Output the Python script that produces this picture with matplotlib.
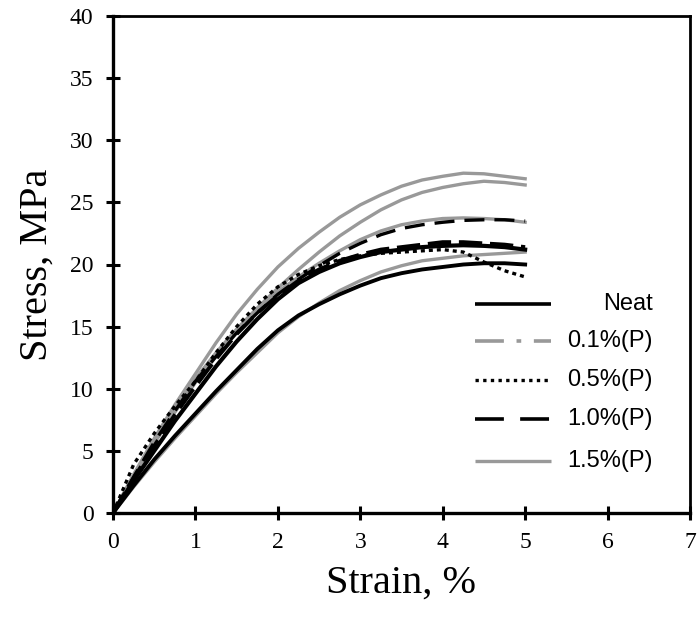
import numpy as np
import matplotlib
matplotlib.use('Agg')
import matplotlib.pyplot as plt

# strain (%) / stress (MPa), one list per specimen
strain = [0, 0.25, 0.5, 0.75, 1.0, 1.25, 1.5, 1.75, 2.0, 2.25, 2.5,
          2.75, 3.0, 3.25, 3.5, 3.75, 4.0, 4.25, 4.5, 4.75, 5.0]

neat_a = [0, 2.6, 5.0, 7.4, 9.6, 11.8, 13.8, 15.6, 17.2, 18.5, 19.4,
          20.1, 20.6, 21.0, 21.2, 21.4, 21.5, 21.55, 21.5, 21.4, 21.2]
neat_b = [0, 2.2, 4.3, 6.2, 8.0, 9.8, 11.5, 13.2, 14.7, 15.9, 16.8,
          17.6, 18.3, 18.9, 19.3, 19.6, 19.8, 20.0, 20.1, 20.1, 20.0]
p01_a = [0, 2.1, 4.1, 6.0, 7.8, 9.6, 11.3, 12.9, 14.5, 15.8, 16.9,
         17.9, 18.7, 19.4, 19.9, 20.3, 20.5, 20.7, 20.8, 20.9, 21.0]
p05_a = [0, 3.9, 6.4, 8.6, 10.6, 12.9, 15.0, 16.8, 18.2, 19.2, 19.9,
         20.4, 20.7, 20.9, 21.0, 21.1, 21.2, 21.0, 20.2, 19.5, 19.0]
p10_a = [0, 2.9, 5.7, 8.2, 10.6, 12.6, 14.5, 16.1, 17.6, 18.8, 19.9,
         20.9, 21.7, 22.4, 22.9, 23.2, 23.4, 23.55, 23.6, 23.6, 23.5]
p10_b = [0, 2.8, 5.4, 7.9, 10.2, 12.4, 14.4, 16.1, 17.5, 18.7, 19.6,
         20.3, 20.8, 21.2, 21.4, 21.6, 21.8, 21.8, 21.7, 21.6, 21.4]
p15_a = [0, 3.1, 6.0, 8.7, 11.2, 13.7, 16.0, 18.0, 19.8, 21.3, 22.6,
         23.8, 24.8, 25.6, 26.3, 26.8, 27.1, 27.35, 27.3, 27.1, 26.9]
p15_b = [0, 3.0, 5.8, 8.4, 10.8, 12.9, 14.8, 16.5, 18.1, 19.6, 21.0,
         22.3, 23.4, 24.4, 25.2, 25.8, 26.2, 26.5, 26.7, 26.6, 26.4]
p15_c = [0, 2.9, 5.6, 8.1, 10.5, 12.6, 14.6, 16.3, 17.8, 19.0, 20.1,
         21.1, 22.0, 22.7, 23.2, 23.5, 23.7, 23.75, 23.7, 23.6, 23.4]

labels = ['Neat', '0.1%(P)', '0.5%(P)', '1.0%(P)', '1.5%(P)']

GREY = '#999999'
styles = {
    'Neat': dict(color='black', lw=2.6, ls='-'),
    '0.1%(P)': dict(color=GREY, lw=2.6, ls=(0, (8, 3.5, 1.3, 3.5))),
    '0.5%(P)': dict(color='black', lw=2.4, ls=(0, (1, 1.3))),
    '1.0%(P)': dict(color='black', lw=2.6, ls=(0, (8, 4.5))),
    '1.5%(P)': dict(color=GREY, lw=2.4, ls='-'),
}

fig = plt.figure(figsize=(6.99, 6.23), dpi=100)
ax = fig.add_axes([113/699, 1 - 513/623, 577/699, 497/623])

# specimen curves (dense data in the original looks solid)
ax.plot(strain, p15_a, color=GREY, lw=2.4)
ax.plot(strain, p15_b, color=GREY, lw=2.4)
ax.plot(strain, p15_c, color=GREY, lw=2.4)
ax.plot(strain, p01_a, color=GREY, lw=2.4)
ax.plot(strain, neat_b, color='black', lw=2.8)
ax.plot(strain, neat_a, color='black', lw=3.0)
ax.plot(strain, p10_b, color='black', lw=2.8, ls=(0, (6, 2)))
ax.plot(strain, p10_a, color='black', lw=2.4, ls=(0, (6, 3)))
ax.plot(strain, p05_a, color='black', lw=2.4, ls=(0, (1.2, 1.2)))

ax.set_xlim(0, 7)
ax.set_ylim(0, 40)
ax.set_xticks(range(0, 8))
ax.set_yticks(range(0, 41, 5))

for s in ['left', 'bottom']:
    ax.spines[s].set_linewidth(2.4)
for s in ['top', 'right']:
    ax.spines[s].set_linewidth(2.0)
ax.tick_params(direction='inout', length=10, width=2.2, labelsize=17, pad=9)
for lab in ax.get_xticklabels() + ax.get_yticklabels():
    lab.set_family('Liberation Serif')

ax.set_xlabel('Strain, %', family='Liberation Serif', fontsize=29, labelpad=8)
ax.set_ylabel('Stress, MPa', family='Liberation Serif', fontsize=29, labelpad=10)

# hand-placed legend, text right-aligned like the original
row_y = [304, 341, 380, 419, 461]
for lab, yp in zip(labels, row_y):
    yy = 1 - (yp - 16) / 497
    ax.plot([(475 - 113) / 577, (551 - 113) / 577], [yy, yy],
            transform=ax.transAxes, clip_on=False, solid_capstyle='butt',
            dash_capstyle='butt', **styles[lab])
    ax.text((653 - 113) / 577, yy, lab, transform=ax.transAxes,
            ha='right', va='center', fontsize=17, family='Liberation Sans')

fig.savefig('out.png', dpi=100)
